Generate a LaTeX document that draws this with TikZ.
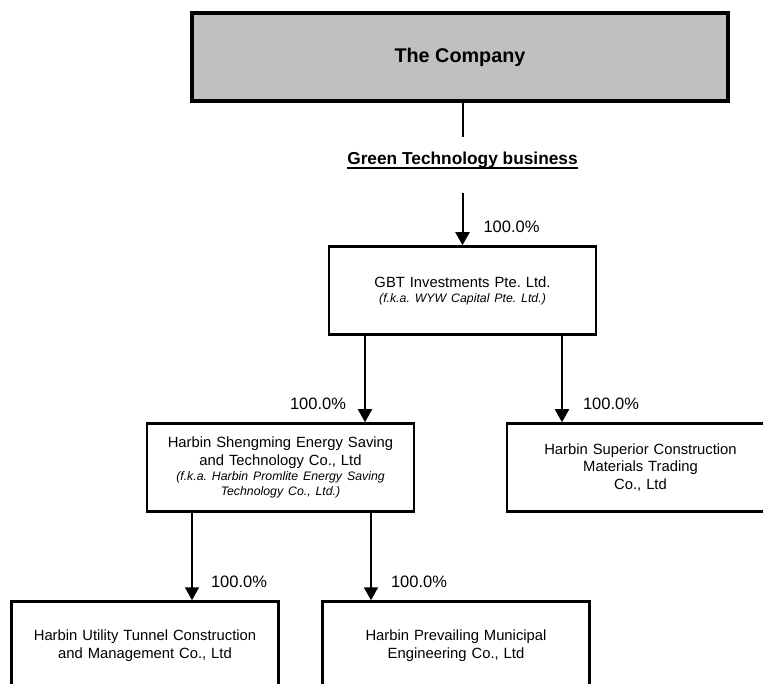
\documentclass[tikz,border=0pt]{standalone}
\usepackage{fontspec}
\setmainfont{Liberation Sans}
\usetikzlibrary{arrows.meta}
\definecolor{boxgray}{RGB}{192,192,192}
\newcommand{\fkanote}[1]{\par{\fontsize{12.3}{15}\selectfont\itshape #1\par}}
\frenchspacing
\begin{document}
\begin{tikzpicture}[x=1pt,y=-1pt,
  entity/.style={draw, line width=2.5pt, minimum width=267pt, minimum height=88pt,
    text width=262pt, align=center, inner sep=0pt, font=\fontsize{14.8}{17.5}\selectfont},
  topbox/.style={draw, line width=4pt, fill=boxgray, minimum width=536pt, minimum height=88pt,
    inner sep=0pt, font=\fontsize{19.8}{24}\selectfont\bfseries},
  pct/.style={inner sep=0pt, font=\fontsize{16.5}{20}\selectfont},
  arr/.style={line width=2pt, -{Triangle[width=14pt,length=13pt]}}]
\useasboundingbox (0,0) rectangle (763,684);
\clip (0,0) rectangle (763,684);

\node[topbox] (co) at (460,57) {The Company};
\coordinate (cotail) at (462.5,137);
\draw[line width=2pt] (co.south -| cotail) -- (cotail);
\node[inner sep=0pt, font=\fontsize{17.3}{20}\selectfont\bfseries] (gtb) at (462.5,160) {Green Technology business};
\draw[line width=1.6pt] ([yshift=-3.5pt]gtb.base west) -- ([yshift=-3.5pt]gtb.base east);

\node[entity] (gbt) at (462.5,290.5) {GBT Investments Pte. Ltd.\fkanote{(f.k.a. WYW Capital Pte. Ltd.)}};
\node[entity] (shm) at (280.5,467.5) {Harbin Shengming Energy Saving\\ and Technology Co., Ltd\fkanote{(f.k.a. Harbin Promlite Energy Saving\\ Technology Co., Ltd.)}};
\node[entity] (sup) at (640.5,467.5) {Harbin Superior Construction\\ Materials Trading\\ Co., Ltd};
\node[entity] (utc) at (145,645.5) {Harbin Utility Tunnel Construction\\ and Management Co., Ltd};
\node[entity] (pme) at (456,645.5) {Harbin Prevailing Municipal\\ Engineering Co., Ltd};

\coordinate (gtbtail) at (462.5,193);
\draw[arr] (gtbtail) -- (gbt.north) node[pct, anchor=west, xshift=20pt, yshift=18pt] {100.0\%};
\draw[arr] ([xshift=-97.5pt]gbt.south) -- ([xshift=84.5pt]shm.north) node[pct, anchor=east, xshift=-18pt, yshift=18pt] {100.0\%};
\draw[arr] ([xshift=99.5pt]gbt.south) -- ([xshift=-78.5pt]sup.north) node[pct, anchor=west, xshift=20pt, yshift=18pt] {100.0\%};
\draw[arr] ([xshift=-88.5pt]shm.south) -- ([xshift=47pt]utc.north) node[pct, anchor=west, xshift=18pt, yshift=18pt] {100.0\%};
\draw[arr] ([xshift=90.5pt]shm.south) -- ([xshift=-85pt]pme.north) node[pct, anchor=west, xshift=19pt, yshift=18pt] {100.0\%};

\end{tikzpicture}
\end{document}
